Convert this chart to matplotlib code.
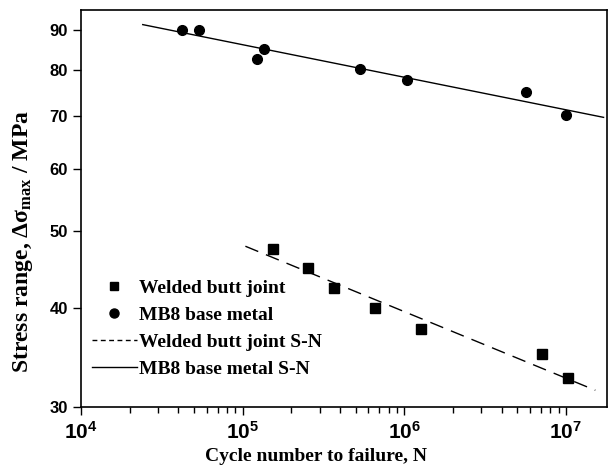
import matplotlib
matplotlib.use("Agg")
import matplotlib.pyplot as plt
from matplotlib.lines import Line2D
from matplotlib.ticker import FixedLocator, NullFormatter, LogLocator

# welded butt joint test points
weld_n = [1.54e5, 2.52e5, 3.7e5, 6.6e5, 1.27e6, 7.1e6, 1.03e7]
weld_s = [47.5, 45.0, 42.4, 40.0, 37.6, 35.0, 32.6]
# MB8 base metal test points
base_n = [4.2e4, 5.4e4, 1.22e5, 1.36e5, 5.36e5, 1.04e6, 5.7e6, 1.0e7]
base_s = [90, 90, 82.6, 85, 80.2, 77.6, 75.1, 70.2]
# fitted S-N lines (end points)
weld_fit_n = [1.04e5, 1.52e7]
weld_fit_s = [47.9, 31.5]
base_fit_n = [2.41e4, 1.71e7]
base_fit_s = [91.3, 69.7]

y_ticks = [30, 40, 50, 60, 70, 80, 90]

plt.rcParams["font.family"] = ["Liberation Sans", "DejaVu Sans"]
plt.rcParams["font.weight"] = "bold"
serif = ["Liberation Serif", "DejaVu Serif"]

fig = plt.figure(figsize=(6.09, 4.70), dpi=100)
ax = fig.add_axes([0.133, 0.134, 0.864, 0.845])

ax.plot(weld_fit_n, weld_fit_s, color="black", lw=1.0, dashes=(10, 6))
ax.plot(base_fit_n, base_fit_s, color="black", lw=1.0)
ax.plot(weld_n, weld_s, "s", color="black", ms=7, ls="none")
ax.plot(base_n, base_s, "o", color="black", ms=7, ls="none")

ax.set_xscale("log")
ax.set_yscale("log")
ax.set_xlim(1e4, 1.8e7)
ax.set_ylim(30, 95.3)

ax.yaxis.set_major_locator(FixedLocator(y_ticks))
ax.yaxis.set_minor_locator(FixedLocator([]))
ax.set_yticklabels([str(t) for t in y_ticks])
ax.yaxis.set_minor_formatter(NullFormatter())

ax.xaxis.set_major_locator(LogLocator(base=10, numticks=10))
ax.xaxis.set_minor_locator(LogLocator(base=10, subs=range(2, 10), numticks=10))
ax.tick_params(axis="x", which="major", labelsize=15, length=6, width=1, pad=4)
ax.tick_params(axis="x", which="minor", length=4, width=1)
ax.tick_params(axis="y", which="major", labelsize=12, length=6, width=1)
ax.tick_params(top=False, right=False)

for sp in ax.spines.values():
    sp.set_linewidth(1.2)

ax.set_xlabel("Cycle number to failure, N", family=serif, weight="bold", fontsize=14)
ax.xaxis.set_label_coords(0.446, -0.103)
ax.set_ylabel(r"Stress range, $\mathregular{\Delta\sigma_{max}}$ / MPa", family=serif,
              weight="bold", fontsize=17)
ax.yaxis.set_label_coords(-0.087, 0.418)

handles = [
    Line2D([], [], marker="s", color="black", ls="none", ms=5.5),
    Line2D([], [], marker="o", color="black", ls="none", ms=6.5),
    Line2D([], [], color="black", lw=1.0, dashes=(3.5, 2.5)),
    Line2D([], [], color="black", lw=1.0),
]
labels = ["Welded butt joint", "MB8 base metal", "Welded butt joint S-N", "MB8 base metal S-N"]
ax.legend(handles, labels, loc="upper left", bbox_to_anchor=(0.021, 0.322), frameon=False,
          prop={"family": serif, "weight": "bold", "size": 14}, handlelength=2.3,
          handletextpad=0.1, labelspacing=0.49, borderaxespad=0, borderpad=0)

fig.savefig("out.png", dpi=100)
